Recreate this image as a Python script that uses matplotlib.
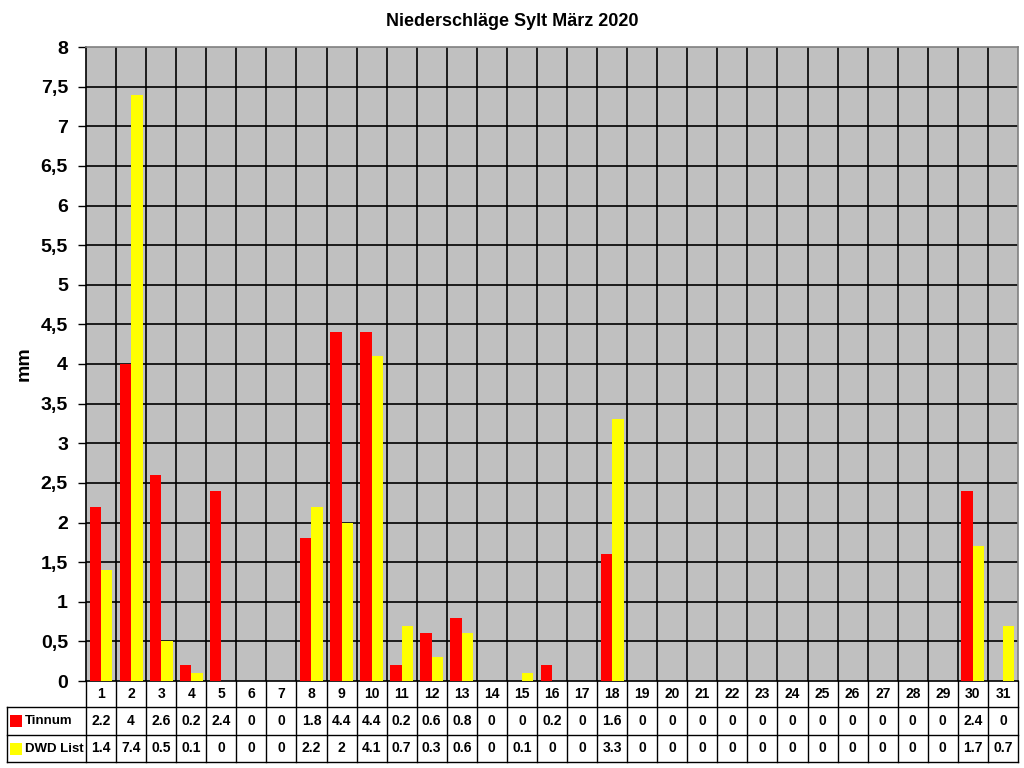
import matplotlib
matplotlib.use("Agg")
import matplotlib.pyplot as plt
import matplotlib.transforms as mtransforms
from matplotlib.patches import Rectangle
import numpy as np

days = [str(d) for d in range(1, 32)]
tinnum = [2.2, 4, 2.6, 0.2, 2.4, 0, 0, 1.8, 4.4, 4.4, 0.2, 0.6, 0.8, 0, 0, 0.2, 0,
          1.6, 0, 0, 0, 0, 0, 0, 0, 0, 0, 0, 0, 2.4, 0]
dwd = [1.4, 7.4, 0.5, 0.1, 0, 0, 0, 2.2, 2, 4.1, 0.7, 0.3, 0.6, 0, 0.1, 0, 0,
       3.3, 0, 0, 0, 0, 0, 0, 0, 0, 0, 0, 0, 1.7, 0.7]
series_names = ["Tinnum", "DWD List"]
series_colors = ["#ff0000", "#ffff00"]
yticks = [0, 0.5, 1, 1.5, 2, 2.5, 3, 3.5, 4, 4.5, 5, 5.5, 6, 6.5, 7, 7.5, 8]

plt.rcParams['font.family'] = ['Liberation Sans', 'DejaVu Sans']
plt.rcParams['font.weight'] = 'bold'

W, H = 1024, 768
fig = plt.figure(figsize=(W / 100, H / 100), dpi=100)
fig.patch.set_facecolor('white')

L, R, T, B = 86, 1018, 47, 681
ax = fig.add_axes([L / W, 1 - B / H, (R - L) / W, (B - T) / H])
ax.set_facecolor('#c0c0c0')

x = np.arange(1, 32)
bw = 0.38
ax.bar(x - bw / 2, tinnum, width=bw, color=series_colors[0], zorder=3, linewidth=0)
ax.bar(x + bw / 2, dwd, width=bw, color=series_colors[1], zorder=3, linewidth=0)

ax.set_xlim(0.5, 31.5)
ax.set_ylim(0, 8)
ax.set_yticks(yticks)
ax.set_yticklabels([("%g" % v).replace('.', ',') for v in yticks], fontsize=14, fontweight='bold')
ax.tick_params(axis='y', length=6, width=1, color='black', direction='out', pad=7)
ax.set_xticks([])
for yv in yticks[1:-1]:
    ax.axhline(yv, color='black', linewidth=1.2, zorder=1)
for xv in np.arange(1.5, 31.5, 1):
    ax.axvline(xv, color='black', linewidth=1.2, zorder=1)

for s in ['left', 'bottom']:
    ax.spines[s].set_color('black')
    ax.spines[s].set_linewidth(1.2)
for s in ['top', 'right']:
    ax.spines[s].set_color('#808080')
    ax.spines[s].set_linewidth(1.2)

fig.text(24 / W, 1 - 364 / H, 'mm', rotation=90, ha='center', va='center',
         fontsize=14, fontweight='bold')
fig.text(512 / W, 1 - 21 / H, 'Niederschläge Sylt März 2020',
         ha='center', va='center', fontsize=13, fontweight='bold')

# data table
trans = mtransforms.blended_transform_factory(ax.transData, fig.transFigure)
def fy(px):
    return 1 - px / H

rows_y = [681, 707, 735, 762]
lw = 1.0
for yp in rows_y[1:]:
    fig.add_artist(plt.Line2D([7 / W, R / W], [fy(yp), fy(yp)], color='black', lw=lw,
                              transform=fig.transFigure))
fig.add_artist(plt.Line2D([7 / W, 7 / W], [fy(707), fy(762)], color='black', lw=lw,
                          transform=fig.transFigure))
for xv in np.arange(0.5, 32.5, 1):
    fig.add_artist(plt.Line2D([xv, xv], [fy(681), fy(762)], color='black', lw=lw,
                              transform=trans))

fs = 10
for i, d in enumerate(days):
    xi = i + 1
    fig.text(xi, fy((681 + 707) / 2), d, transform=trans, ha='center', va='center',
             fontsize=fs, fontweight='bold')
    fig.text(xi, fy((707 + 735) / 2), "%g" % tinnum[i], transform=trans, ha='center',
             va='center', fontsize=fs, fontweight='bold')
    fig.text(xi, fy((735 + 762) / 2), "%g" % dwd[i], transform=trans, ha='center',
             va='center', fontsize=fs, fontweight='bold')

for j, (name, col) in enumerate(zip(series_names, series_colors)):
    yc = (rows_y[j + 1] + rows_y[j + 2]) / 2
    fig.add_artist(Rectangle((10 / W, fy(yc + 6)), 12 / W, 12 / H, facecolor=col,
                             edgecolor='none', transform=fig.transFigure))
    fig.text(25 / W, fy(yc), name, ha='left', va='center', fontsize=9.5, fontweight='bold')

fig.savefig('out.png', dpi=100)
